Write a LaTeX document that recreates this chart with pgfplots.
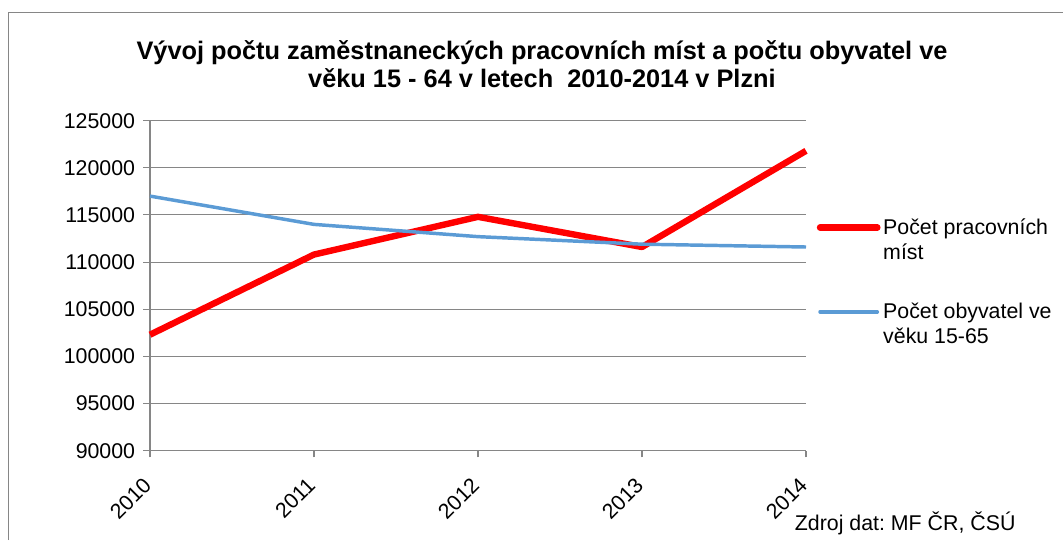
\documentclass[border=0pt]{standalone}
\usepackage{fontspec}
\setmainfont{Liberation Sans}
\usepackage{pgfplots}
\pgfplotsset{compat=1.18}
\definecolor{gridgray}{HTML}{868686}
\definecolor{blueline}{HTML}{5B9BD5}
\frenchspacing
\begin{document}
\begin{tikzpicture}
\path[use as bounding box] (0pt,0pt) rectangle (797.25pt,405pt);
\draw[gridgray, line width=0.8pt] (6.4pt,0pt) -- (6.4pt,395.5pt) -- (797.25pt,395.5pt);
\node[font=\bfseries\fontsize{19}{21}\selectfont, align=center] at (406.5pt,357pt)
  {Vývoj počtu zaměstnaneckých pracovních míst a počtu obyvatel ve\\věku 15 - 64 v letech \ 2010-2014 v Plzni};
\begin{axis}[
  at={(112.5pt,67pt)}, anchor=south west,
  scale only axis, width=492pt, height=247.5pt,
  xmin=2010, xmax=2014, ymin=90000, ymax=125000,
  xtick={2010,2011,2012,2013,2014},
  ytick={90000,95000,100000,105000,110000,115000,120000,125000},
  scaled y ticks=false,
  /pgf/number format/assume math mode=true,
  /pgf/number format/fixed,
  /pgf/number format/precision=0,
  /pgf/number format/1000 sep={},
  axis x line*=bottom, axis y line*=left,
  axis line style={gridgray, line width=0.8pt, -},
  ymajorgrids, major grid style={gridgray, line width=0.8pt},
  tick style={gridgray, line width=0.8pt},
  tick align=outside, major tick length=5pt,
  tick label style={font=\fontsize{16}{19}\selectfont},
  xticklabel style={xshift=-6pt, yshift=-14pt, rotate=45, anchor=north east, inner sep=0pt},
  yticklabel style={inner sep=6pt},
  clip=false,
  legend style={at={(1.01,0.72)}, anchor=north west, draw=none, fill=none,
    font=\fontsize{16}{19}\selectfont, row sep=46pt, legend cell align=left},
  legend image code/.code={\draw[#1, line cap=round] (0pt,0pt) -- (43pt,0pt);},
]
\addplot[red, line width=4.8pt, line join=round] coordinates {
 (2010,102300) (2011,110800) (2012,114800) (2013,111600) (2014,121800)};
\addlegendentry{\parbox[t]{150pt}{Počet pracovních\\míst}}
\addplot[blueline, line width=2.6pt, line join=round] coordinates {
 (2010,117000) (2011,114000) (2012,112700) (2013,111900) (2014,111600)};
\addlegendentry{\parbox[t]{150pt}{Počet obyvatel ve\\věku 15-65}}
\end{axis}
\node[anchor=west, font=\fontsize{16}{19}\selectfont, inner sep=0pt] at (596pt,12.75pt) {Zdroj dat: MF ČR, ČSÚ};
\end{tikzpicture}
\end{document}
